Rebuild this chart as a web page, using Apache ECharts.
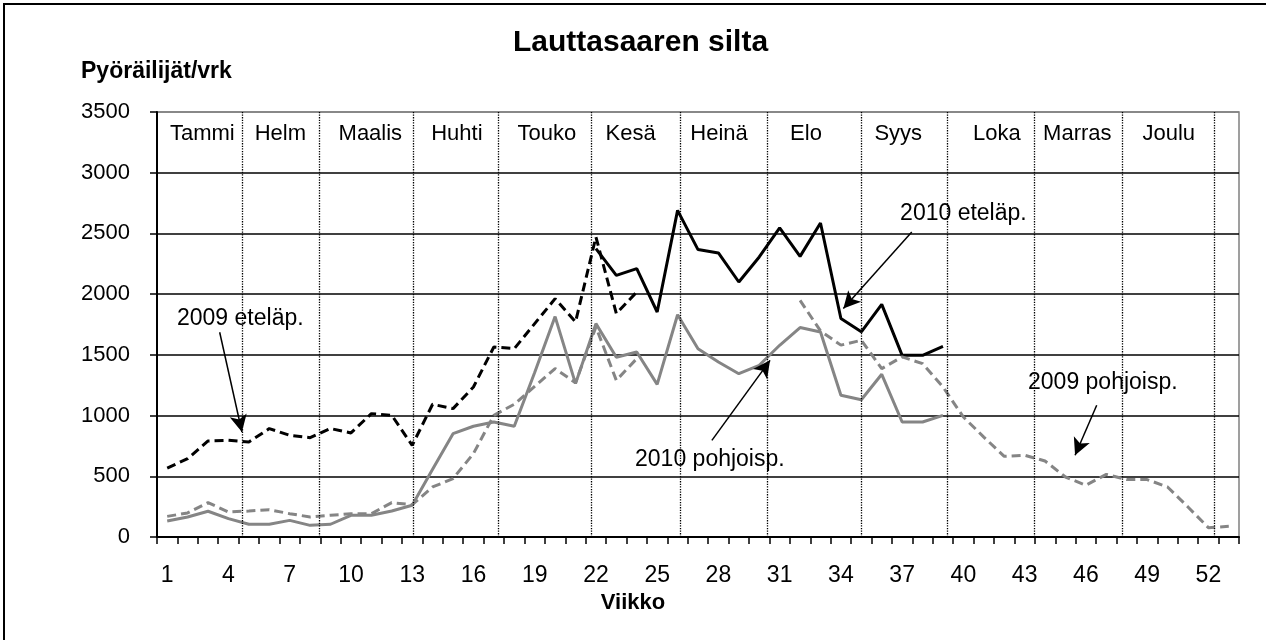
<!DOCTYPE html>
<html>
<head>
<meta charset="utf-8">
<title>Lauttasaaren silta</title>
<script src="https://cdn.jsdelivr.net/npm/echarts@6/dist/echarts.min.js"></script>
<style>
  html, body { margin: 0; padding: 0; background: #fff; }
  #chart { width: 1266px; height: 640px; }
</style>
</head>
<body>
<div id="chart"></div>
<script>
// viikot 1..53
var weeks = [];
for (var w = 1; w <= 53; w++) weeks.push(String(w));

// 2009 eteläpuoli, viikot 1-24
var south2009 = [568, 645, 791, 796, 782, 893, 837, 818, 893, 857, 1016, 1002,
  755, 1093, 1057, 1235, 1565, 1551, 1757, 1963, 1771, 2471, 1840, 2018];
var south2009Start = 1;

// 2010 eteläpuoli, viikot 22-39
var south2010 = [2375, 2155, 2210, 1853, 2690, 2367, 2339, 2100, 2306, 2545,
  2311, 2586, 1799, 1690, 1916, 1496, 1496, 1570];
var south2010Start = 22;

// 2009 pohjoispuoli, viikot 1-53 (katko 25-31)
var north2009 = [170, 198, 283, 206, 214, 225, 192, 165, 179, 192, 192, 283,
  266, 412, 481, 687, 1002, 1093, 1241, 1387, 1270, 1730, 1290, 1469,
  null, null, null, null, null, null, null,
  1949, 1697, 1580, 1620, 1387, 1483, 1428, 1235, 988, 823, 664, 673, 626,
  494, 426, 516, 473, 473, 412, 247, 77, 88];
var north2009Start = 1;

// 2010 pohjoispuoli, viikot 1-39
var north2010 = [132, 165, 212, 151, 105, 105, 137, 96, 105, 179, 179, 214,
  261, 557, 851, 912, 947, 912, 1354, 1815, 1263, 1757, 1480, 1524, 1257,
  1830, 1551, 1441, 1345, 1414, 1579, 1725, 1688, 1167, 1130, 1340, 947, 947, 1002];
var north2010Start = 1;

// kuukaudet
var monthNames = ['Tammi', 'Helm', 'Maalis', 'Huhti', 'Touko', 'Kesä', 'Heinä',
  'Elo', 'Syys', 'Loka', 'Marras', 'Joulu'];
var monthLabelAt = [2.22, 6.04, 10.45, 14.69, 19.10, 23.20, 27.53, 31.79, 36.31,
  41.14, 45.08, 49.56];
var monthBounds = [4.16, 7.96, 12.54, 16.73, 21.25, 25.63, 29.87, 34.52, 38.72,
  42.98, 47.26, 51.78];

// selitteet nuolineen (x viikkoina, y pyöräilijöinä)
var noteTexts = ['2009 eteläp.', '2010 eteläp.', '2010 pohjoisp.', '2009 pohjoisp.'];
var noteAt = [[4.08, 1801], [39.5, 2665], [27.08, 640], [46.33, 1274]];
var noteFrom = [[3.07, 1686], [36.97, 2512], [27.18, 796], [46.03, 1085]];
var noteTo = [[4.16, 865], [33.62, 1881], [30.03, 1455], [44.97, 673]];

var font = "'Liberation Sans', Arial, sans-serif";

function pad(values, start) {
  var out = [];
  for (var i = 1; i <= weeks.length; i++) {
    var v = values[i - start];
    out.push(v === undefined ? null : v);
  }
  return out;
}

function line(name, data, color, dashed) {
  return {
    name: name,
    type: 'line',
    data: data,
    xAxisIndex: 0,
    yAxisIndex: 0,
    symbol: 'none',
    showSymbol: false,
    connectNulls: false,
    z: 4,
    lineStyle: { color: color, width: 3, type: dashed ? [9, 5] : 'solid' }
  };
}

var option = {
  animation: false,
  textStyle: { fontFamily: font },
  title: [{
    text: 'Lauttasaaren silta', left: 513, top: 28, padding: 0,
    textStyle: { fontSize: 30, fontWeight: 'bold', color: '#000', fontFamily: font }
  }, {
    text: 'Pyöräilijät/vrk', left: 81, top: 60, padding: 0,
    textStyle: { fontSize: 23, fontWeight: 'bold', color: '#000', fontFamily: font }
  }, {
    text: 'Viikko', left: 'center', top: 592, padding: 0,
    textStyle: { fontSize: 22, fontWeight: 'bold', color: '#000', fontFamily: font }
  }],
  graphic: [{
    type: 'rect', silent: true,
    shape: { x: 4, y: 4, width: 1400, height: 800 },
    style: { fill: 'none', stroke: '#000', lineWidth: 2 }
  }],
  grid: {
    left: 157, right: 27, top: 112, bottom: 103,
    show: true, borderColor: '#808080', borderWidth: 1.5
  },
  xAxis: [{
    type: 'category',
    data: weeks,
    boundaryGap: true,
    axisLine: { lineStyle: { color: '#000', width: 2 } },
    axisTick: { show: true, interval: 0, length: 7, lineStyle: { color: '#000', width: 1.5 } },
    axisLabel: { interval: 2, color: '#000', fontSize: 23, margin: 27, fontFamily: font },
    splitLine: { show: false }
  }, {
    type: 'value', min: 0, max: 53, show: false
  }],
  yAxis: {
    type: 'value',
    min: 0,
    max: 3500,
    interval: 500,
    axisLine: { show: true, lineStyle: { color: '#000', width: 2 } },
    axisTick: { show: true, length: 7, lineStyle: { color: '#000', width: 1.5 } },
    axisLabel: {
      color: '#000', fontSize: 22, margin: 27, fontFamily: font,
      formatter: function (v) { return String(v); }
    },
    splitLine: {
      show: true,
      lineStyle: { color: ['#000', '#000', '#000', '#000', '#000', '#000', '#000', '#808080'], width: 1.5 }
    }
  },
  series: [{
    // kuukausien nimet ja rajat
    type: 'scatter',
    xAxisIndex: 1,
    yAxisIndex: 0,
    z: 1,
    silent: true,
    symbolSize: 1,
    itemStyle: { color: 'transparent', opacity: 1 },
    emphasis: { disabled: true },
    data: monthNames.map(function (m, i) { return { name: m, value: [monthLabelAt[i], 3316] }; }),
    label: {
      show: true, position: 'inside', formatter: '{b}', color: '#000', fontSize: 22,
      fontFamily: font, textBorderWidth: 0
    },
    markLine: {
      silent: true,
      symbol: 'none',
      animation: false,
      label: { show: false },
      lineStyle: { color: '#000', type: 'dotted', width: 1.3 },
      data: monthBounds.map(function (v) { return { xAxis: v }; })
    }
  }, {
    // selitteet
    type: 'scatter',
    xAxisIndex: 1,
    yAxisIndex: 0,
    z: 3,
    silent: true,
    symbolSize: 1,
    itemStyle: { color: 'transparent', opacity: 1 },
    emphasis: { disabled: true },
    data: noteTexts.map(function (t, i) { return { name: t, value: noteAt[i] }; }),
    label: {
      show: true, position: 'inside', formatter: '{b}', color: '#000', fontSize: 23,
      fontFamily: font, backgroundColor: '#fff', padding: [8, 4, 0, 4], textBorderWidth: 0
    },
    markLine: {
      silent: true,
      animation: false,
      symbol: ['none', 'arrow'],
      symbolSize: [13, 17],
      label: { show: false },
      lineStyle: { color: '#000', type: 'solid', width: 1.5, opacity: 1 },
      data: noteTexts.map(function (t, i) { return [{ coord: noteFrom[i] }, { coord: noteTo[i] }]; })
    }
  },
    line('2009 eteläp.', pad(south2009, south2009Start), '#000', true),
    line('2010 eteläp.', pad(south2010, south2010Start), '#000', false),
    line('2009 pohjoisp.', pad(north2009, north2009Start), '#858585', true),
    line('2010 pohjoisp.', pad(north2010, north2010Start), '#858585', false)
  ]
};

var chart = echarts.init(document.getElementById('chart'), null, { renderer: 'canvas' });
chart.setOption(option);
</script>
</body>
</html>
